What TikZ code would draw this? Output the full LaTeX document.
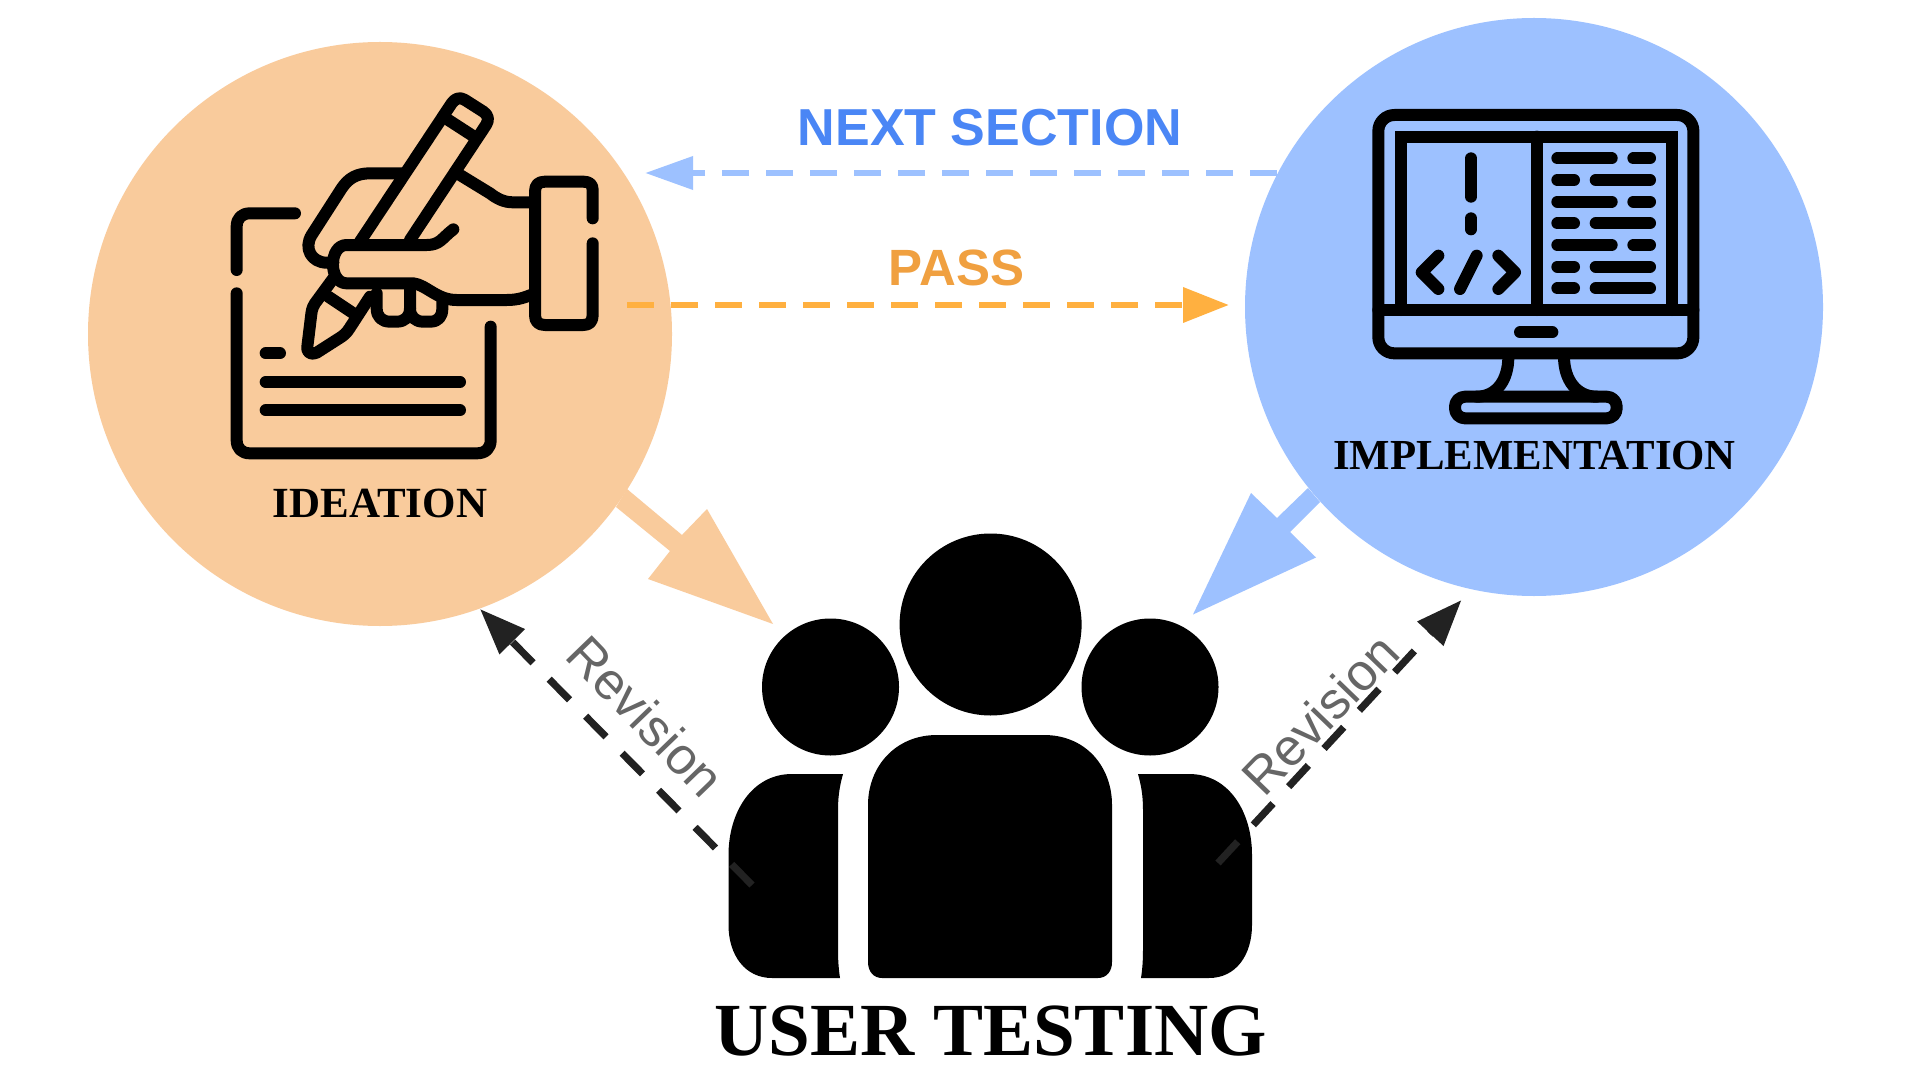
\documentclass[tikz,border=0pt]{standalone}
\usepackage{fontspec}
\setmainfont{Liberation Serif}
\newfontfamily\arialf{Liberation Sans}
\usetikzlibrary{arrows.meta}
\definecolor{peach}{HTML}{F9CB9C}
\definecolor{skyb}{HTML}{9DC1FF}
\definecolor{passline}{HTML}{FFB040}
\definecolor{passtext}{HTML}{F0A040}
\definecolor{nexttext}{HTML}{4A86F5}
\definecolor{revline}{HTML}{222222}
\definecolor{revtext}{HTML}{666666}
\tikzset{
  x=0.5pt,y=-0.5pt,
  disc/.style={circle,inner sep=0pt,draw=none},
  icon/.style={line width=6pt,line cap=round,line join=round,draw=black},
  serifbold/.style={font=\bfseries,inner sep=0pt,text=black},
  flowlabel/.style={font=\arialf\bfseries,inner sep=0pt},
  revlabel/.style={font=\arialf\fontsize{26}{30}\selectfont,text=revtext,inner sep=0pt},
  dashflow/.style={line width=3.4pt,dash pattern=on 13.5pt off 8.5pt},
  revflow/.style={line width=3.6pt,color=revline,dash pattern=on 14.5pt off 11.5pt,-{Triangle[length=23pt,width=17pt]}},
}
\begin{document}
\begin{tikzpicture}
\useasboundingbox (0,0) rectangle (1920,1080);
\fill[white] (0,0) rectangle (1920,1080);
% circles
\node[disc,fill=peach,minimum size=292pt] (ideation) at (380,334) {};
\node[disc,fill=skyb,minimum size=289pt] (impl) at (1534,307) {};

% big arrows
\fill[peach] (627,489) -- (682,535) -- (707,509) -- (773,624) -- (648,579) -- (670,551) -- (616,507) -- cycle;
\fill[skyb] (1308,488) -- (1277,518) -- (1251,493) -- (1193,614.5) -- (1316,557.5) -- (1290,532) -- (1320,502) -- cycle;

% ideation icon
\begin{scope}[shift={(200,70)},x=0.16667pt,y=-0.16667pt]
\draw[icon] (285,430) -- (150,430) .. controls (125,430) and (110,445) .. (110,470) -- (110,600);
\draw[icon] (110,670) -- (110,1110) .. controls (110,1135) and (125,1150) .. (150,1150) -- (830,1150) .. controls (857,1150) and (872,1135) .. (872,1110) -- (872,770);
\draw[icon] (197,850) -- (240,850);
\draw[icon] (197,936) -- (780,936);
\draw[icon] (197,1021) -- (780,1021);
% pencil upper
\draw[icon] (480,515) -- (755,100) .. controls (765,85) and (780,80) .. (795,90) -- (850,125) .. controls (865,135) and (868,150) .. (858,165) -- (630,510);
\draw[icon] (745,150) -- (830,205);
% pencil lower
\draw[icon] (400,625) -- (345,700) .. controls (335,715) and (335,725) .. (333,740) -- (322,830) .. controls (320,850) and (335,855) .. (350,848) -- (425,800) .. controls (440,790) and (445,780) .. (455,765) -- (510,680);
\draw[icon] (385,680) -- (460,730);
% hand
\draw[icon] (760,478) .. controls (725,505) and (720,525) .. (680,525) -- (440,525) .. controls (385,525) and (385,640) .. (440,640) -- (640,640) .. controls (680,645) and (710,690) .. (770,690) -- (920,690) .. controls (955,690) and (975,682) .. (1000,672);
\draw[icon] (610,310) -- (510,310) .. controls (470,310) and (445,325) .. (425,355) -- (335,495) .. controls (310,535) and (335,578) .. (380,578) -- (400,578);
\draw[icon] (780,315) -- (870,370) .. controls (890,385) and (910,397) .. (940,397) -- (1000,397);
\draw[icon] (530,670) -- (530,715) .. controls (530,740) and (545,755) .. (570,755) -- (590,755) .. controls (615,755) and (630,740) .. (630,715) -- (630,660);
\draw[icon] (630,715) .. controls (630,740) and (645,755) .. (670,755) -- (690,755) .. controls (715,755) and (727,740) .. (727,715) -- (727,692);
% cuff
\draw[icon] (1178,445) -- (1178,360) .. controls (1178,343) and (1168,335) .. (1150,335) -- (1035,335) .. controls (1015,335) and (1005,345) .. (1005,365) -- (1005,735) .. controls (1005,755) and (1015,765) .. (1035,765) -- (1150,765) .. controls (1168,765) and (1178,755) .. (1178,735) -- (1178,520);
\end{scope}

% monitor icon
\begin{scope}[shift={(1340,90)},x=0.16667pt,y=-0.16667pt]
\draw[icon,rounded corners=8pt] (115,75) rectangle (1060,790);
\draw[icon] (115,660) -- (1060,660);
\draw[icon,line join=miter] (182,660) -- (182,140) -- (995,140) -- (995,660);
\draw[icon] (590,140) -- (590,660);
\draw[icon] (393,205) -- (393,320);
\draw[icon] (393,385) -- (393,418);
\draw[icon] (295,497) -- (245,547) -- (295,597);
\draw[icon] (410,497) -- (360,597);
\draw[icon] (475,497) -- (525,547) -- (475,597);
\foreach \ya in {205,335,465}{
  \draw[icon] (652,\ya) -- (815,\ya);
  \draw[icon] (880,\ya) -- (930,\ya);
}
\foreach \yb in {270,400,530,595}{
  \draw[icon] (652,\yb) -- (702,\yb);
  \draw[icon] (767,\yb) -- (930,\yb);
}
\draw[icon] (540,727) -- (637,727);
\draw[icon] (505,800) .. controls (505,870) and (470,920) .. (410,920);
\draw[icon] (672,800) .. controls (672,870) and (710,920) .. (770,920);
\draw[icon,rounded corners=5pt] (345,920) rectangle (830,985);
\end{scope}

% users
\node[disc,fill=black,minimum size=91pt] (headc) at (990.6,624.5) {};
\node[disc,fill=black,minimum size=68.5pt] (headl) at (830.5,687) {};
\node[disc,fill=black,minimum size=68.5pt] (headr) at (1150,687) {};
\fill[black] (868,805) .. controls (868,767) and (895,735) .. (937,735) -- (1044,735) .. controls (1086,735) and (1112,767) .. (1112,805) -- (1112,962) .. controls (1112,972) and (1106,978) .. (1098,978) -- (882,978) .. controls (874,978) and (868,972) .. (868,962) -- cycle;
\fill[black] (843,774) -- (792,774) .. controls (752,774) and (728.5,812) .. (728.5,855) -- (728.5,925) .. controls (728.5,955) and (745,978) .. (772,978) -- (840,978) .. controls (838,965) and (838,955) .. (838,945) -- (838,810) .. controls (838,795) and (840,785) .. (843,774) -- cycle;
\fill[black] (1138,774) -- (1189,774) .. controls (1229,774) and (1252,812) .. (1252,855) -- (1252,925) .. controls (1252,955) and (1236,978) .. (1209,978) -- (1141,978) .. controls (1143,965) and (1143,955) .. (1143,945) -- (1143,810) .. controls (1143,795) and (1141,785) .. (1138,774) -- cycle;

% flow arrows
\coordinate (nextstart) at (1277,173);
\coordinate (nextend) at (645,173);
\coordinate (passstart) at (627,305);
\coordinate (passend) at (1229,305);
\draw[dashflow,color=skyb,-{Triangle[length=24pt,width=16pt]}] (nextstart) -- (nextend);
\draw[dashflow,color=passline,-{Triangle[length=23pt,width=17pt]}] (passstart) -- (passend);
\coordinate (revlstart) at (752,885);
\coordinate (revlend) at (480,609);
\coordinate (revrstart) at (1218,863);
\coordinate (revrend) at (1461.5,600);
\draw[revflow] (revlstart) -- (revlend);
\draw[revflow] (revrstart) -- (revrend);

% labels
\node[serifbold,font=\bfseries\fontsize{21.5}{24}\selectfont] (ideationlabel) at (380,503.5) {IDEATION};
\node[serifbold,font=\bfseries\fontsize{21.4}{24}\selectfont] (impllabel) at (1534.5,456) {IMPLEMENTATION};
\node[serifbold,font=\bfseries\fontsize{37.5}{40}\selectfont] (userlabel) at (990.6,1031) {USER TESTING};
\node[flowlabel,text=nexttext,font=\arialf\bfseries\fontsize{26}{30}\selectfont] (nextlabel) at (990,127.5) {NEXT SECTION};
\node[flowlabel,text=passtext,font=\arialf\bfseries\fontsize{25.5}{30}\selectfont] (passlabel) at (956.5,267.5) {PASS};
\node[revlabel,rotate=-46] (revl) at (646,716) {Revision};
\node[revlabel,rotate=46] (revr) at (1320,714) {Revision};
\end{tikzpicture}
\end{document}
